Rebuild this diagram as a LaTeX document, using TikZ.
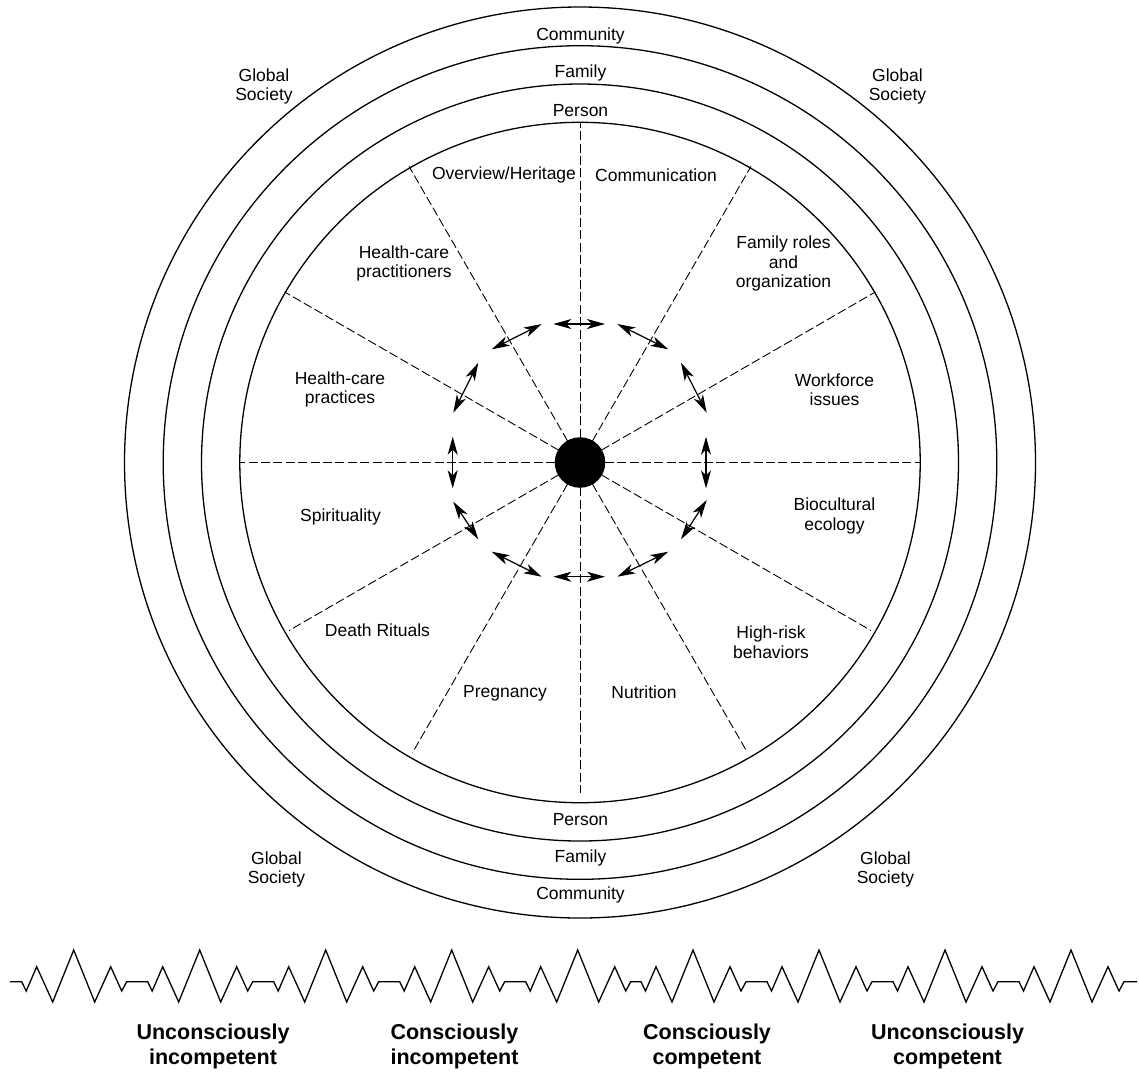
\documentclass[tikz,border=0pt]{standalone}
\usepackage{fontspec}
\setmainfont{Liberation Sans}
\usetikzlibrary{arrows.meta}

\begin{document}
\begin{tikzpicture}[x=1pt,y=-1pt,
  ring/.style={line width=1.3pt},
  spoke/.style={line width=0.9pt, dash pattern=on 9pt off 3.4pt},
  flow/.style={line width=1.2pt,
    {Stealth[length=18pt,width=10pt,inset=5pt]}-{Stealth[length=18pt,width=10pt,inset=5pt]}},
  lbl/.style={font=\fontsize{17.5}{19.5}\selectfont, align=center, inner sep=0pt},
  stage/.style={font=\fontsize{21.5}{24.6}\selectfont\bfseries, align=center, inner sep=0pt},
  zig/.style={line width=1.3pt, line join=miter}]

\useasboundingbox (0,0) rectangle (1139,1072);

% centre of the wheel
\coordinate (c) at (580,462.5);

% concentric rings: global society / community / family / person
\draw[ring] (c) circle[radius=455.5];
\draw[ring] (c) circle[radius=416.8];
\draw[ring] (c) circle[radius=378.5];
\draw[ring] (c) circle[radius=340.2];

% twelve dashed spokes separating the domains
\foreach \a/\r in {0/341,30/341,60/342,90/341,120/342,150/341,180/341,
                   210/336,240/335,270/330,300/333,330/336}
  \draw[spoke] (c) -- ++({-\a}:\r);

% hub
\node[circle, fill=black, minimum size=50.5pt, inner sep=0pt] (hub) at (c) {};

% ring of double-headed arrows linking neighbouring domains
\foreach \i/\xa/\ya/\xb/\yb in {
   1/553.3/324/605/324,
   2/617.3/324/668.3/349.3,
   3/681/362.7/706.7/412.7,
   4/706/436.7/706/488.3,
   5/706.7/500/681/539.3,
   6/668.3/551.7/617.3/576.7,
   7/605/576.7/553.3/576.7,
   8/541.7/576.7/491.7/551.7,
   9/478.3/539.3/453.3/501.7,
  10/452.7/488.3/452.7/436.7,
  11/453.3/412.7/478.3/362.7,
  12/491.7/349.3/541.7/324}
{
  \coordinate (arr\i a) at (\xa,\ya);
  \coordinate (arr\i b) at (\xb,\yb);
  \draw[flow] (arr\i a) -- (arr\i b);
}

% ring labels
\node[lbl] (commtop) at (580.5,36)  {Community};
\node[lbl] (famtop)  at (580.5,73)  {Family};
\node[lbl] (pertop)  at (580.5,111) {Person};
\node[lbl] (perbot)  at (580.5,819.5) {Person};
\node[lbl] (fambot)  at (580.5,857.5) {Family};
\node[lbl] (commbot) at (580.5,895) {Community};

\node[lbl] (gstl) at (264,86.5)   {Global\\Society};
\node[lbl] (gstr) at (897.5,86.5) {Global\\Society};
\node[lbl] (gsbl) at (276.5,869.5) {Global\\Society};
\node[lbl] (gsbr) at (885.5,869.5) {Global\\Society};

% domain labels
\node[lbl] (overview) at (504,175)   {Overview/Heritage};
\node[lbl] (commun)   at (656,175)   {Communication};
\node[lbl] (famroles) at (783.5,263.5) {Family roles\\and\\organization};
\node[lbl] (hcpract)  at (404,263.5) {Health-care\\practitioners};
\node[lbl] (hcprac)   at (340,389.5) {Health-care\\practices};
\node[lbl] (workf)    at (834.5,389.5) {Workforce\\issues};
\node[lbl] (spirit)   at (340.5,516.5) {Spirituality};
\node[lbl] (biocult)  at (834.5,516) {Biocultural\\ecology};
\node[lbl] (death)    at (377.5,630) {Death Rituals};
\node[lbl] (highrisk) at (771,642)   {High-risk\\behaviors};
\node[lbl] (pregn)    at (505,693)   {Pregnancy};
\node[lbl] (nutr)     at (644,692)   {Nutrition};

% zigzag line of the competence continuum
\draw[zig] (10,981.7)
  foreach \x in {21.7,147.7,273.7,399.7,525.7,641,767,893,1019} {
    -- (\x,981.7) -- (\x+4.5,991) -- (\x+15,966.7) -- (\x+31,1002)
    -- (\x+52,950) -- (\x+73,1002) -- (\x+89,966.7) -- (\x+100,991)
    -- (\x+105,981.7)
  } -- (1137,981.7);

% competence stages
\node[stage] (s1) at (213,1046.5)   {Unconsciously\\incompetent};
\node[stage] (s2) at (454.5,1046.5) {Consciously\\incompetent};
\node[stage] (s3) at (707,1046.5)   {Consciously\\competent};
\node[stage] (s4) at (947.5,1046.5) {Unconsciously\\competent};

\end{tikzpicture}
\end{document}
